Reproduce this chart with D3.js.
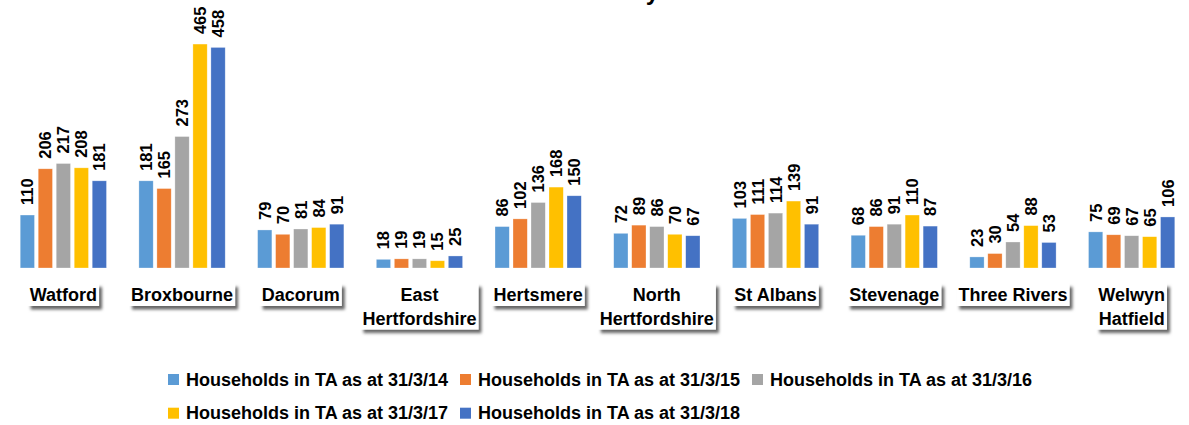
<!DOCTYPE html>
<html>
<head>
<meta charset="utf-8">
<script src="https://cdn.jsdelivr.net/npm/d3@7"></script>
<style>
  html, body { margin: 0; padding: 0; background: #fff; }
  svg { display: block; font-family: "Liberation Sans", Arial, sans-serif; }
</style>
</head>
<body>
<svg id="chart" width="1189" height="425"></svg>
<script>
// ---- data ----
const categories = ["Watford", "Broxbourne", "Dacorum", "East Hertfordshire", "Hertsmere",
  "North Hertfordshire", "St Albans", "Stevenage", "Three Rivers", "Welwyn Hatfield"];
const categoryLines = [["Watford"], ["Broxbourne"], ["Dacorum"], ["East", "Hertfordshire"], ["Hertsmere"],
  ["North", "Hertfordshire"], ["St Albans"], ["Stevenage"], ["Three Rivers"], ["Welwyn", "Hatfield"]];
const seriesNames = ["Households in TA as at 31/3/14", "Households in TA as at 31/3/15",
  "Households in TA as at 31/3/16", "Households in TA as at 31/3/17", "Households in TA as at 31/3/18"];
const ta14 = [110, 181, 79, 18, 86, 72, 103, 68, 23, 75];
const ta15 = [206, 165, 70, 19, 102, 89, 111, 86, 30, 69];
const ta16 = [217, 273, 81, 19, 136, 86, 114, 91, 54, 67];
const ta17 = [208, 465, 84, 15, 168, 70, 139, 110, 88, 65];
const ta18 = [181, 458, 91, 25, 150, 67, 91, 87, 53, 106];
const seriesColors = ["#5B9BD5", "#ED7D31", "#A5A5A5", "#FFC000", "#4472C4"];
const titleText = "Households in TA \u2013 Local Authority";

const seriesValues = [ta14, ta15, ta16, ta17, ta18];

const svg = d3.select("#chart");
const defs = svg.append("defs");
const sh = defs.append("filter").attr("id", "boxShadow")
  .attr("x", "-20%").attr("y", "-30%").attr("width", "150%").attr("height", "170%");
sh.append("feDropShadow").attr("dx", 3).attr("dy", 3.5).attr("stdDeviation", 1.6)
  .attr("flood-color", "#000").attr("flood-opacity", 0.6);
const ash = defs.append("filter").attr("id", "axisShadow")
  .attr("x", "-5%").attr("y", "-200%").attr("width", "110%").attr("height", "600%");
ash.append("feDropShadow").attr("dx", 0).attr("dy", 2.5).attr("stdDeviation", 1.5)
  .attr("flood-color", "#000").attr("flood-opacity", 0.25);

// ---- scales ----
const baseY = 268;
const x0 = d3.scaleBand().domain(categories).range([4, 1191])
  .paddingInner(0.273).paddingOuter(0.1365);
const x1 = d3.scaleBand().domain(seriesNames).range([0, x0.bandwidth()]).paddingInner(0.206);
const y = d3.scaleLinear().domain([0, 500]).range([baseY, 27.2]);
const color = d3.scaleOrdinal().domain(seriesNames).range(seriesColors);

// ---- title (mostly above the visible frame, as in the reference) ----
svg.append("text").attr("x", 659).attr("y", -0.5)
  .attr("text-anchor", "end").attr("font-size", 24).attr("font-weight", "bold")
  .attr("fill", "#000").text(titleText);

// ---- axis line ----
const xAxis = d3.axisBottom(x0).tickSize(0).tickFormat("");
const axisG = svg.append("g").attr("transform", `translate(0,${baseY + 0.5})`).call(xAxis);
axisG.select(".domain").attr("d", "M5,0H1189").attr("stroke", "#D9D9D9").attr("stroke-width", 1.5)
  .attr("filter", "url(#axisShadow)");

// ---- bars ----
const flat = [];
categories.forEach((c, i) => {
  seriesNames.forEach((s, j) => flat.push({ cat: c, series: s, value: seriesValues[j][i] }));
});

const barG = svg.append("g");
barG.selectAll("rect").data(flat).join("rect")
  .attr("x", d => x0(d.cat) + x1(d.series))
  .attr("y", d => y(d.value))
  .attr("width", x1.bandwidth())
  .attr("height", d => baseY - y(d.value))
  .attr("fill", d => color(d.series))
  .attr("stroke", "#fff").attr("stroke-opacity", 0.5).attr("stroke-width", 0.6);

// ---- value labels ----
barG.selectAll("text.val").data(flat).join("text")
  .attr("class", "val")
  .attr("transform", d => `translate(${x0(d.cat) + x1(d.series) + x1.bandwidth() / 2},${y(d.value) - 10}) rotate(-90)`)
  .attr("dy", "0.36em")
  .attr("text-anchor", "start")
  .attr("font-size", 16.5).attr("font-weight", "bold").attr("fill", "#000")
  .text(d => d.value);

// ---- category labels in boxes ----
const catG = svg.append("g");
categories.forEach((c, i) => {
  const cx = x0(c) + x0.bandwidth() / 2;
  const g = catG.append("g");
  const rect = g.append("rect").attr("fill", "#fff").attr("filter", "url(#boxShadow)");
  const t = g.append("text").attr("text-anchor", "middle")
    .attr("font-size", 18).attr("font-weight", "bold").attr("fill", "#000");
  categoryLines[i].forEach((ln, k) => {
    t.append("tspan").attr("x", cx).attr("y", 301 + k * 23.5).text(ln);
  });
  const bb = t.node().getBBox();
  rect.attr("x", bb.x - 2).attr("y", 283.5)
    .attr("width", bb.width + 4)
    .attr("height", (301 + (categoryLines[i].length - 1) * 23.5 + 5) - 283.5);
});

// ---- legend ----
const legG = svg.append("g");
const colStep = 292;
seriesNames.forEach((s, i) => {
  const col = i % 3, row = Math.floor(i / 3);
  const lx = 168 + col * colStep;
  const ly = 374 + row * 33.7;
  legG.append("rect").attr("x", lx).attr("y", ly).attr("width", 11).attr("height", 11)
    .attr("fill", color(s));
  legG.append("text").attr("x", lx + 18).attr("y", ly + 11.5)
    .attr("font-size", 18).attr("font-weight", "bold").attr("fill", "#000").text(s);
});
</script>
</body>
</html>
